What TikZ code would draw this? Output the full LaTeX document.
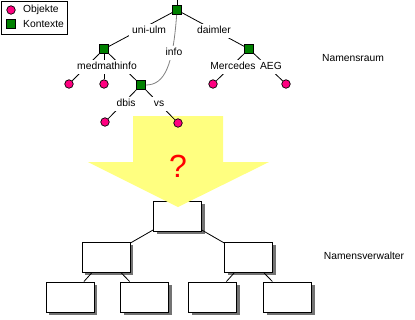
\documentclass[tikz,border=0pt]{standalone}
\usepackage{fontspec}
\setmainfont{Liberation Sans}
\usetikzlibrary{shadows}
\definecolor{objpink}{RGB}{255,0,128}
\definecolor{ctxgreen}{RGB}{0,128,0}
\definecolor{arrowyellow}{RGB}{255,255,128}
\tikzset{
  obj/.style={circle,draw,fill=objpink,inner sep=0pt,minimum size=8.5pt,line width=0.7pt},
  ctx/.style={rectangle,draw,fill=ctxgreen,inner sep=0pt,minimum size=9pt,line width=0.7pt},
  lbl/.style={fill=white,inner xsep=3pt,inner ysep=2.3pt,text height=7.5pt,text depth=2.2pt},
  plain/.style={inner sep=0pt},
  mgrbox/.style={draw,fill=white,minimum width=48pt,minimum height=30pt,inner sep=0pt,line width=0.9pt,
    drop shadow={shadow xshift=3pt,shadow yshift=-3pt,fill=black!55,opacity=1}},
  edge/.style={line width=0.8pt},
}
\begin{document}
\begin{tikzpicture}[x=1pt,y=-1pt,font=\fontsize{10.3}{12}\selectfont]
\useasboundingbox (0,0) rectangle (415,319);
% --- Namensverwalter boxes
\node[mgrbox] (top) at (177.5,216) {};
\node[mgrbox] (ml) at (106,257) {};
\node[mgrbox] (mr) at (248.5,257) {};
\node[mgrbox] (b1) at (70,297) {};
\node[mgrbox] (b2) at (144.5,297) {};
\node[mgrbox] (b3) at (212.5,297) {};
\node[mgrbox] (b4) at (287.5,297) {};
\draw[edge] (top) -- (ml);
\draw[edge] (top) -- (mr);
\draw[edge] (ml) -- (b1);
\draw[edge] (ml) -- (b2);
\draw[edge] (mr) -- (b3);
\draw[edge] (mr) -- (b4);
% --- yellow arrow
\fill[arrowyellow] (133,116) -- (223,116) -- (223,162) -- (269,162) -- (178,207) -- (88,162) -- (133,162) -- cycle;
\node[plain,anchor=base,text=red,font=\fontsize{32}{32}\selectfont] (qm) at (178,177) {?};
% --- legend
\node[draw,line width=0.8pt,minimum width=66pt,minimum height=33.5pt,anchor=north west,inner sep=0pt] (legend) at (0.5,0.5) {};
\node[obj] (lobj) at (11,10) {};
\node[ctx] (lctx) at (11,24) {};
\node[plain,anchor=west] (tobj) at (23,10) {Objekte};
\node[plain,anchor=west] (tctx) at (23,24) {Kontexte};
% --- namespace tree
\coordinate (up) at (177,0);
\node[ctx] (root) at (177,10) {};
\node[ctx] (msq) at (104,49) {};
\node[ctx] (dsq) at (249,49) {};
\node[ctx] (ksq) at (141,85) {};
\node[obj] (c1) at (69,84) {};
\node[obj] (c2) at (104,84) {};
\node[obj] (mc) at (213,84) {};
\node[obj] (ac) at (286,84) {};
\node[obj] (dc) at (105,122) {};
\node[obj] (vc) at (178,123) {};
\draw[edge] (root) -- (up);
\draw[edge] (root) -- (msq);
\draw[edge] (root) -- (dsq);
\draw[edge] (msq) -- (c1);
\draw[edge] (msq) -- (c2);
\draw[edge] (msq) -- (ksq);
\draw[edge] (dsq) -- (mc);
\draw[edge] (dsq) -- (ac);
\draw[edge] (ksq) -- (dc);
\draw[edge] (ksq) -- (vc);
\draw[gray,line width=0.8pt] (root) .. controls (173,65) and (165,85) .. (ksq.east);
\node[lbl] (uniulm) at (149,31) {uni-ulm};
\node[lbl] (daimler) at (214,31) {daimler};
\node[lbl] (info) at (174,53) {info};
\node[lbl] (medmath) at (107,67) {medmathinfo};
\node[lbl] (merc) at (233,67) {Mercedes};
\node[lbl] (aeg) at (271,67) {AEG};
\node[lbl] (dbis) at (126,104) {dbis};
\node[lbl] (vs) at (159,104) {vs};
% --- side labels
\node[plain] (nraum) at (353,58) {Namensraum};
\node[plain] (nverw) at (364,256) {Namensverwalter};
\end{tikzpicture}
\end{document}
